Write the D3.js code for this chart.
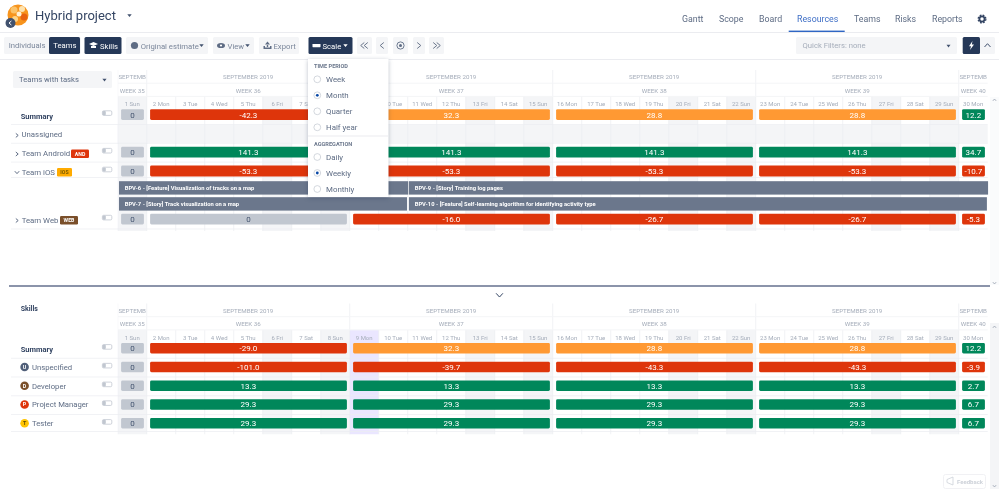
<!DOCTYPE html>
<html><head><meta charset="utf-8">
<script src="https://cdn.jsdelivr.net/npm/d3@7"></script>
<style>
html,body{margin:0;padding:0;background:#fff;overflow:hidden}
svg{display:block;font-family:Roboto,sans-serif;filter:blur(.25px)}
</style></head><body>
<svg id="c" width="999" height="489"></svg>
<script>
// ---------- data ----------
const dayNames = ["Sun","Mon","Tue","Wed","Thu","Fri","Sat"];
const days = d3.range(1,31);
const shadedWeekdays = ["Sun","Fri"];
const weekLabels = ["WEEK 35","WEEK 36","WEEK 37","WEEK 38","WEEK 39","WEEK 40"];
const monthLabels = ["SEPTEMB","SEPTEMBER 2019","SEPTEMBER 2019","SEPTEMBER 2019","SEPTEMBER 2019","SEPTEMB"];
const weekStarts = [1,2,9,16,23,30];
const weekEnds = [2,9,16,23,30,31];

const teamRows = ["Summary","Unassigned","Team Android","Team iOS","Team Web"];
const teamSummary = [0,-42.3,32.3,28.8,28.8,12.2];
const teamAndroid = [0,141.3,141.3,141.3,141.3,34.7];
const teamIOS = [0,-53.3,-53.3,-53.3,-53.3,-10.7];
const teamWeb = [0,0,-16.0,-26.7,-26.7,-5.3];
const skillRows = ["Summary","Unspecified","Developer","Project Manager","Tester"];
const skillSummary = [0,-29.0,32.3,28.8,28.8,12.2];
const skillUnspecified = [0,-101.0,-39.7,-43.3,-43.3,-3.9];
const skillDeveloper = [0,13.3,13.3,13.3,13.3,2.7];
const skillPM = [0,29.3,29.3,29.3,29.3,6.7];
const skillTester = [0,29.3,29.3,29.3,29.3,6.7];
const summaryStatus = ["none","over","warn","warn","warn","ok"];

const taskNames = ["BPV-6 - [Feature] Visualization of tracks on a map","BPV-9 - [Story] Training log pages","BPV-7 - [Story] Track visualization on a map","BPV-10 - [Feature] Self-learning algorithm for identifying activity type"];
const taskStart = [1,11,1,11];
const taskEnd = [11,31,11,31];
const taskLane = [0,0,1,1];

const tabs = ["Gantt","Scope","Board","Resources","Teams","Risks","Reports"];
const timePeriods = ["Week","Month","Quarter","Half year"];
const aggregations = ["Daily","Weekly","Monthly"];

// ---------- helpers ----------
const svg = d3.select("#c");
const INK="#5e6c84", DARK="#253858", MUTED="#a5adba", SHADE="#f4f5f7", LINE="#ebecf0";
const x = d3.scaleLinear().domain([1,31]).range([117.7,117.7+30*29]);
const statusColor = d3.scaleOrdinal().domain(["none","over","warn","ok"]).range(["#c1c7d0","#de350b","#ff9933","#00875a"]);
const statusOf = v => v===0?"none":(v<0?"over":"ok");
const fmt = v => v===0?"0":v.toFixed(1);
const wd = d => dayNames[(d-1)%7];

function T(g,t,px,py,o={}){
  return g.append("text").text(t).attr("x",px).attr("y",py)
    .attr("font-size",o.s||9).attr("fill",o.c||INK)
    .attr("font-weight",o.w||400).attr("text-anchor",o.a||"start");
}
function R(g,a,b,w,h,f,r=1.5){
  return g.append("rect").attr("x",a).attr("y",b).attr("width",w).attr("height",h).attr("fill",f).attr("rx",r);
}
function caret(g,cx,cy,c,s=2.6){
  g.append("path").attr("d",`M${cx-s},${cy-s*.6}L${cx+s},${cy-s*.6}L${cx},${cy+s*.7}Z`).attr("fill",c);
}
function chev(g,cx,cy,dir,c=INK,s=2.6){
  const p={r:`M${cx-s*.6},${cy-s}L${cx+s*.6},${cy}L${cx-s*.6},${cy+s}`,
           l:`M${cx+s*.6},${cy-s}L${cx-s*.6},${cy}L${cx+s*.6},${cy+s}`,
           d:`M${cx-s},${cy-s*.5}L${cx},${cy+s*.6}L${cx+s},${cy-s*.5}`,
           u:`M${cx-s},${cy+s*.5}L${cx},${cy-s*.6}L${cx+s},${cy+s*.5}`}[dir];
  g.append("path").attr("d",p).attr("fill","none").attr("stroke",c).attr("stroke-width",1);
}

// ---------- header ----------
const head = svg.append("g");
head.append("circle").attr("cx",18).attr("cy",15).attr("r",10.5).attr("fill","#f7941d");
[[14,10,3.5,"#fbc36a"],[22,9,3,"#fde3b0"],[24,17,3.5,"#e8620f"],[15,19,3,"#fdd58a"],[19,14,2.5,"#fff1d6"]].forEach(b=>
  head.append("circle").attr("cx",b[0]).attr("cy",b[1]).attr("r",b[2]).attr("fill",b[3]));
head.append("circle").attr("cx",10.5).attr("cy",23).attr("r",5).attr("fill","#42526e");
chev(head,10.2,23,"l","#fff",2);
T(head,"Hybrid project",35,20,{s:13,c:"#344563"});
caret(head,129.5,15.5,"#42526e",2.2);
const tabX=[682,719,759,797,854,895,932];
tabs.forEach((t,i)=>T(head,t,tabX[i],22,{s:8.8,c:t==="Resources"?"#3f6fc6":INK}));
head.append("rect").attr("x",0).attr("y",32).attr("width",999).attr("height",1).attr("fill",LINE);
head.append("rect").attr("x",788.7).attr("y",30.6).attr("width",56).attr("height",1.4).attr("fill","#2f66c4");
// gear
head.append("circle").attr("cx",982).attr("cy",19).attr("r",2.6).attr("fill","none").attr("stroke","#344563").attr("stroke-width",1.8);
head.append("circle").attr("cx",982).attr("cy",19).attr("r",3.9).attr("fill","none").attr("stroke","#344563").attr("stroke-width",1.2).attr("stroke-dasharray","1.8 1.3");

// ---------- toolbar ----------
const tb = svg.append("g");
const TS=7.7;
R(tb,4,37,77,17,SHADE);
T(tb,"Individuals",8.7,47.8,{s:TS,c:"#7a869a"});
R(tb,49,37,31,17,DARK);
T(tb,"Teams",53.3,47.8,{s:TS,c:"#fff"});
R(tb,84.5,37,37,17,DARK);
tb.append("path").attr("d","M89,44L93.5,42L98,44L93.5,46Z M91,46L91,48L96,48L96,46Z").attr("fill","#fff");
T(tb,"Skills",100,48.5,{s:TS,c:"#fff"});
R(tb,126,37,82,17,SHADE);
tb.append("circle").attr("cx",134.5).attr("cy",45.5).attr("r",3.6).attr("fill",INK);
T(tb,"Original estimate",140.7,48.5,{s:TS,c:"#7a869a"});
caret(tb,201.5,45.5,"#42526e",2.2);
R(tb,213,37,41,17,SHADE);
tb.append("ellipse").attr("cx",221).attr("cy",45.5).attr("rx",4).attr("ry",2.6).attr("fill",INK);
tb.append("circle").attr("cx",221).attr("cy",45.5).attr("r",1.1).attr("fill","#fff");
T(tb,"View",227.5,48.5,{s:TS,c:"#7a869a"});
caret(tb,247.5,45.5,"#42526e",2.2);
R(tb,259,37,40,17,SHADE);
tb.append("path").attr("d","M263.5,46L263.5,49L271.5,49L271.5,46L270,46L270,47.6L265,47.6L265,46Z M267.5,41.5L265,44.5L270,44.5Z M266.8,44L268.2,44L268.2,47L266.8,47Z").attr("fill",INK);
T(tb,"Export",273.5,48.5,{s:TS,c:"#7a869a"});
R(tb,308.5,37,44,17,DARK);
R(tb,312.5,44,8,3.2,"#fff",.4);
T(tb,"Scale",322.5,48.5,{s:TS,c:"#fff"});
caret(tb,345.5,45.5,"#fff",2.2);
[[357,15],[376,12],[393,15],[413,12],[429,15]].forEach(b=>R(tb,b[0],37,b[1],17,SHADE));
chev(tb,362.5,45.5,"l","#6b778c",3); chev(tb,366,45.5,"l","#6b778c",3);
chev(tb,382,45.5,"l","#6b778c",3);
tb.append("circle").attr("cx",400.5).attr("cy",45.5).attr("r",3.6).attr("fill","none").attr("stroke","#5e6c84").attr("stroke-width",.9);
tb.append("circle").attr("cx",400.5).attr("cy",45.5).attr("r",1.5).attr("fill","#5e6c84");
chev(tb,419,45.5,"r","#6b778c",3);
chev(tb,435,45.5,"r","#6b778c",3); chev(tb,438.5,45.5,"r","#6b778c",3);
R(tb,796,37,161,17,SHADE);
T(tb,"Quick Filters: none",802.5,48.2,{s:TS,c:MUTED});
caret(tb,948.5,46,"#42526e",2);
R(tb,962.7,37,17.3,17,DARK);
tb.append("path").attr("d","M972.5,41L969,46.2L971,46.2L970,50L974,44.6L971.8,44.6Z").attr("fill","#fff");
R(tb,980,37,15,17,SHADE);
chev(tb,987.5,45.5,"u","#42526e",3);
tb.append("rect").attr("x",0).attr("y",59).attr("width",999).attr("height",1).attr("fill",LINE);

// ---------- panels ----------
function panel(cfg){
  const g = svg.append("g");
  const clipId = "clip"+cfg.key;
  g.append("defs").append("clipPath").attr("id",clipId).append("rect")
    .attr("x",x(1)).attr("y",cfg.headTop-4).attr("width",x(31)-x(1)+1).attr("height",cfg.bottom-cfg.headTop+4);

  const area = g.append("g").attr("clip-path",`url(#${clipId})`);
  const hdrH = 13.2;
  area.selectAll("rect.shade").data(days.filter(d=>shadedWeekdays.includes(wd(d)))).join("rect")
    .attr("class","shade").attr("x",d=>x(d)).attr("width",d=>x(d+1)-x(d))
    .attr("y",cfg.headTop+hdrH*2).attr("height",cfg.bottom-cfg.headTop-hdrH*2).attr("fill",SHADE);
  if(cfg.today){
    area.append("rect").attr("x",x(cfg.today)).attr("width",x(cfg.today+1)-x(cfg.today))
      .attr("y",cfg.headTop+hdrH*2).attr("height",cfg.bottom-cfg.headTop-hdrH*2).attr("fill","#eae6ff");
  }
  area.selectAll("line.v").data(days).join("line").attr("class","v")
    .attr("x1",d=>x(d)).attr("x2",d=>x(d))
    .attr("y1",d=>weekStarts.includes(d)?cfg.headTop:cfg.headTop+hdrH*2).attr("y2",cfg.bottom)
    .attr("stroke",LINE).attr("stroke-width",.7);
  [0,1].forEach(rowI=>{
    const labs = rowI===0?monthLabels:weekLabels;
    area.selectAll(`text.h${rowI}`).data(labs).join("text").attr("class",`h${rowI}`)
      .text(d=>d)
      .attr("x",(d,i)=>(x(weekStarts[i])+x(weekEnds[i]))/2)
      .attr("text-anchor","middle")
      .attr("y",cfg.headTop+hdrH*rowI+9.4).attr("font-size",6.2).attr("fill",MUTED);
    area.append("line").attr("x1",x(1)).attr("x2",x(31)).attr("y1",cfg.headTop+hdrH*(rowI+1)).attr("y2",cfg.headTop+hdrH*(rowI+1)).attr("stroke",SHADE);
  });
  area.selectAll("text.d").data(days).join("text").attr("class","d")
    .text(d=>`${d} ${wd(d)}`).attr("x",d=>x(d)+14.5).attr("y",cfg.headTop+hdrH*2+10)
    .attr("text-anchor","middle").attr("font-size",6).attr("fill",MUTED);

  const rows = cfg.rows;
  rows.forEach(r=>{
    if(r.kind==="task") return;
    g.append("line").attr("x1",11).attr("x2",118).attr("y1",r.y+r.h-.5).attr("y2",r.y+r.h-.5).attr("stroke",LINE).attr("stroke-width",.7);
    if(r.kind==="empty") R(area,x(1),r.y,x(31)-x(1),r.h-1,SHADE,0);
    area.append("line").attr("x1",x(1)).attr("x2",x(31)).attr("y1",r.y+r.h-.5).attr("y2",r.y+r.h-.5).attr("stroke",LINE).attr("stroke-width",.7);
  });
  rows.filter(r=>r.kind==="empty").forEach(r=>{
    area.selectAll(null).data(days).join("line").attr("x1",d=>x(d)).attr("x2",d=>x(d)).attr("y1",r.y).attr("y2",r.y+r.h)
      .attr("stroke",LINE).attr("stroke-width",.7);
  });
  const valueRows = rows.filter(r=>r.values);
  const rg = area.selectAll("g.row").data(valueRows).join("g").attr("class","row");
  const cells = rg.selectAll("g.cell").data(r=>r.values.map((v,i)=>({v,i,r}))).join("g").attr("class","cell");
  cells.append("rect")
    .attr("x",d=>x(weekStarts[d.i])+3.4)
    .attr("width",d=>x(weekEnds[d.i])-x(weekStarts[d.i])-6.2)
    .attr("y",d=>d.r.y+cfg.barOff).attr("height",cfg.barH).attr("rx",1.4)
    .attr("fill",d=>statusColor(d.r.status?d.r.status[d.i]:statusOf(d.v)));
  cells.append("text").text(d=>fmt(d.v))
    .attr("x",d=>(x(weekStarts[d.i])+x(weekEnds[d.i]))/2+.2)
    .attr("y",d=>d.r.y+cfg.barOff+cfg.barH/2+2.9)
    .attr("text-anchor","middle").attr("font-size",8)
    .attr("fill",d=>d.v===0?"#42526e":"#fff");
  rows.filter(r=>r.kind==="value").forEach(r=>{
    R(g,102.4,r.y+cfg.barOff+1.6,9.4,4.6,"#fff",1.2).attr("stroke","#c1c7d0").attr("stroke-width",.8);
    R(g,102.6,r.y+cfg.barOff+1.8,3.2,4.2,"#c1c7d0",1);
  });
  return {g,area};
}

function layout(top,hs,kinds,labels,vals,stats){
  let y=top; const out=[];
  hs.forEach((h,i)=>{ out.push({y,h,kind:kinds[i],label:labels[i],values:vals[i],status:stats[i]}); y+=h; });
  return out;
}

const topRows = layout(106.2,[18.8,18.8,18.8,15.4,16,16.7,18.8],
  ["value","empty","value","value","task","task","value"],
  [teamRows[0],teamRows[1],teamRows[2],teamRows[3],null,null,teamRows[4]],
  [teamSummary,null,teamAndroid,teamIOS,null,null,teamWeb],
  [summaryStatus,null,null,null,null,null,null]);
const P1 = panel({key:"t",headTop:70,bottom:231,rows:topRows,barOff:3,barH:10.8,today:null});

// task lanes
const laneY = d3.scaleOrdinal().domain([0,1]).range([topRows[4].y+3.2,topRows[5].y+3.2]);
const tk = P1.area.selectAll("g.task").data(taskNames.map((n,i)=>({n,s:taskStart[i],e:taskEnd[i],l:taskLane[i]}))).join("g").attr("class","task");
tk.append("rect").attr("x",d=>x(d.s)+(d.s===1?1.3:1.2)).attr("width",d=>x(d.e)-x(d.s)-1.6+(d.l===0?.8:-.4))
  .attr("y",d=>laneY(d.l)).attr("height",13.4).attr("fill","#6b778c");
tk.append("text").text(d=>d.n).attr("x",d=>x(d.s)+7).attr("y",d=>laneY(d.l)+8.8)
  .attr("font-size",5.8).attr("font-weight",700).attr("fill","#fff");

const L1 = P1.g, LS=7.8;
T(L1,"Summary",20.7,119,{s:7.5,w:700,c:"#344563"});
chev(L1,17,135.4,"r",INK,2);
T(L1,"Unassigned",21.5,137.2,{s:LS});
chev(L1,17,154,"r",INK,2);
T(L1,"Team Android",21.7,156,{s:LS});
R(L1,71,149.5,18,8.5,"#de350b",1.2); T(L1,"AND",80,156,{s:5.2,c:"#fff",w:700,a:"middle"});
chev(L1,17,172.3,"d",INK,2.2);
T(L1,"Team iOS",21.7,174.5,{s:LS});
R(L1,57,168,15,8.5,"#ffab00",1.2); T(L1,"IOS",64.5,174.4,{s:5.2,c:"#7a5b00",w:700,a:"middle"});
chev(L1,17,220.5,"r",INK,2);
T(L1,"Team Web",21.7,222.5,{s:LS});
R(L1,60,216,18,8.5,"#7a4f2a",1.2); T(L1,"WEB",69,222.4,{s:5.2,c:"#fff",w:700,a:"middle"});

R(L1,13,71,99,17,SHADE);
T(L1,"Teams with tasks",19,82,{s:TS});
caret(L1,104.5,80,"#42526e",2.1);

const botRows = layout(340,[18.75,18.75,18.75,18.75,17],
  ["value","value","value","value","value"],skillRows,
  [skillSummary,skillUnspecified,skillDeveloper,skillPM,skillTester],
  [summaryStatus,null,null,null,null]);
const P2 = panel({key:"b",headTop:303.5,bottom:434.5,rows:botRows,barOff:3,barH:10.5,today:9});
const L2=P2.g;
T(L2,"Skills",20.7,311,{s:7,w:700,c:"#344563"});
T(L2,"Summary",20.7,352,{s:7.5,w:700,c:"#344563"});
const avatarFill=d3.scaleOrdinal().domain(skillRows.slice(1)).range(["#505f79","#7a4f2a","#de350b","#ffc400"]);
skillRows.slice(1).forEach((n,i)=>{
  const cy=botRows[i+1].y+8.2;
  L2.append("circle").attr("cx",24.6).attr("cy",cy).attr("r",4.3).attr("fill",avatarFill(n));
  T(L2,n[0],24.6,cy+2,{s:5.4,w:700,a:"middle",c:n==="Tester"?"#5e4a00":"#fff"});
  T(L2,n,32,cy+2.9,{s:7.7});
});

svg.append("rect").attr("x",9).attr("y",285.2).attr("width",981).attr("height",1.6).attr("fill","#6f7a96");
chev(svg,499.5,295,"d","#344563",3.4);

const sb=svg.append("g");
R(sb,990,323,9,166,SHADE,0);
R(sb,990,97,9,188,"#fafbfc",0);
chev(sb,994.5,100,"u","#a5adba",1.6);
chev(sb,994.5,283,"d","#a5adba",1.6);
chev(sb,994.5,327,"u","#a5adba",1.6);
chev(sb,994.5,486,"d","#a5adba",1.6);

const fb=svg.append("g").attr("opacity",.55);
R(fb,943.5,474.5,42,14,"#fff",2).attr("stroke","#dfe1e6").attr("stroke-width",.8);
fb.append("path").attr("d","M947,479.5L953,477L953,485L947,482.5Z").attr("fill","none").attr("stroke","#a5adba").attr("stroke-width",.8);
T(fb,"Feedback",957,483.5,{s:6,c:"#a5adba",w:700});

const dd=svg.append("g");
dd.append("rect").attr("x",308).attr("y",59).attr("width",80.5).attr("height",138).attr("fill","#fff")
  .style("filter","drop-shadow(0 1px 2px rgba(9,30,66,.28))");
dd.append("rect").attr("x",308).attr("y",135.5).attr("width",80.5).attr("height",1).attr("fill",LINE);
T(dd,"TIME PERIOD",314,67.5,{s:5.6,w:700,c:"#6b778c"});
T(dd,"AGGREGATION",314,145.5,{s:5.6,w:700,c:"#6b778c"});
function radios(items,startY,sel){
  items.forEach((t,i)=>{
    const cy=startY+i*16;
    dd.append("circle").attr("cx",317.3).attr("cy",cy).attr("r",3.4).attr("fill","#fff").attr("stroke","#c1c7d0").attr("stroke-width",.7);
    if(t===sel) dd.append("circle").attr("cx",317.3).attr("cy",cy).attr("r",1.4).attr("fill","#0747a6");
    T(dd,t,326,cy+2.8,{s:7.9});
  });
}
radios(timePeriods,79.3,"Month");
radios(aggregations,157,"Weekly");
</script></body></html>
